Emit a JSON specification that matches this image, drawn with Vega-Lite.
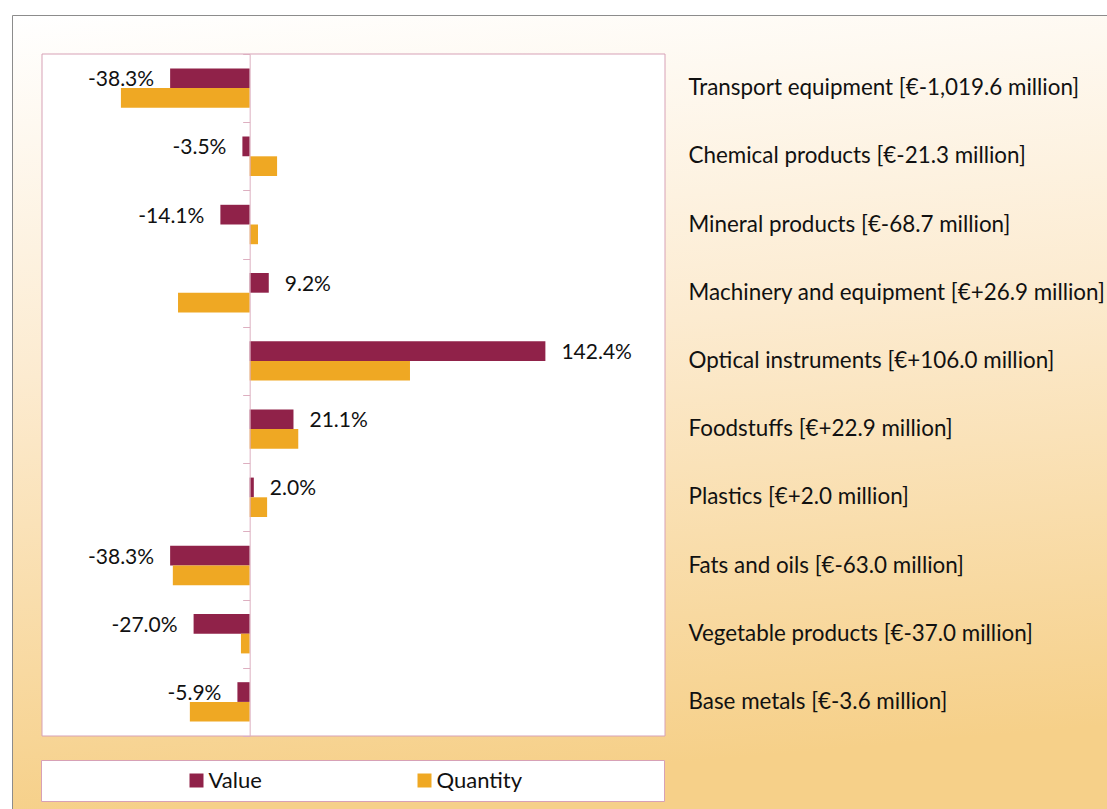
{
  "$schema": "https://vega.github.io/schema/vega-lite/v6.json",
  "width": 1095,
  "height": 794,
  "autosize": {"type": "none"},
  "padding": {"left": 12, "top": 15, "right": 0, "bottom": 0},
  "background": "white",
  "view": {
    "fill": {
      "gradient": "linear",
      "x1": 0, "y1": 0, "x2": 0.12, "y2": 1,
      "stops": [
        {"offset": 0, "color": "#FFFFFF"},
        {"offset": 0.45, "color": "#FCEBD0"},
        {"offset": 1, "color": "#F6D089"}
      ]
    },
    "stroke": "#8C8C8C",
    "strokeWidth": 1
  },
  "config": {
    "font": "Lato",
    "locale": {"number": {"decimal": ".", "thousands": ",", "grouping": [3], "currency": ["", ""], "minus": "-"}}
  },
  "layer": [
    {
      "data": {"values": [{"panel": "plot area"}]},
      "mark": {"type": "rect", "fill": "white", "stroke": "#D7A1B6", "strokeWidth": 1},
      "encoding": {
        "x": {"datum": -1, "type": "quantitative", "scale": {"domain": [-1, 2], "range": [30, 653], "nice": false}, "axis": null},
        "x2": {"datum": 2},
        "y": {"datum": 0, "type": "quantitative", "scale": {"domain": [0, 1], "range": [39, 721], "nice": false, "zero": false}, "axis": null},
        "y2": {"datum": 1}
      }
    },
    {
      "data": {
        "values": [
          {"category": "Transport equipment [€-1,019.6 million]", "series": "Value", "value": -0.383},
          {"category": "Transport equipment [€-1,019.6 million]", "series": "Quantity", "value": -0.62},
          {"category": "Chemical products [€-21.3 million]", "series": "Value", "value": -0.035},
          {"category": "Chemical products [€-21.3 million]", "series": "Quantity", "value": 0.132},
          {"category": "Mineral products [€-68.7 million]", "series": "Value", "value": -0.141},
          {"category": "Mineral products [€-68.7 million]", "series": "Quantity", "value": 0.04},
          {"category": "Machinery and equipment [€+26.9 million]", "series": "Value", "value": 0.092},
          {"category": "Machinery and equipment [€+26.9 million]", "series": "Quantity", "value": -0.345},
          {"category": "Optical instruments [€+106.0 million]", "series": "Value", "value": 1.424},
          {"category": "Optical instruments [€+106.0 million]", "series": "Quantity", "value": 0.772},
          {"category": "Foodstuffs [€+22.9 million]", "series": "Value", "value": 0.211},
          {"category": "Foodstuffs [€+22.9 million]", "series": "Quantity", "value": 0.234},
          {"category": "Plastics [€+2.0 million]", "series": "Value", "value": 0.02},
          {"category": "Plastics [€+2.0 million]", "series": "Quantity", "value": 0.084},
          {"category": "Fats and oils [€-63.0 million]", "series": "Value", "value": -0.383},
          {"category": "Fats and oils [€-63.0 million]", "series": "Quantity", "value": -0.37},
          {"category": "Vegetable products [€-37.0 million]", "series": "Value", "value": -0.27},
          {"category": "Vegetable products [€-37.0 million]", "series": "Quantity", "value": -0.042},
          {"category": "Base metals [€-3.6 million]", "series": "Value", "value": -0.059},
          {"category": "Base metals [€-3.6 million]", "series": "Quantity", "value": -0.288}
        ]
      },
      "layer": [
        {
          "mark": {"type": "bar"},
          "encoding": {
            "y": {
              "field": "category", "type": "nominal", "sort": null,
              "scale": {"range": [39, 721], "paddingInner": 0, "paddingOuter": 0},
              "axis": {
                "orient": "left", "offset": -237.67, "labels": false, "title": null,
                "domainColor": "#DDAFC0", "tickColor": "#DDAFC0", "tickSize": 7,
                "tickBand": "extent", "zindex": 1, "grid": false
              }
            },
            "yOffset": {
              "field": "series", "type": "nominal", "sort": ["Value", "Quantity"],
              "scale": {"domain": ["Value", "Quantity"], "paddingOuter": 0.73, "paddingInner": 0}
            },
            "x": {"field": "value", "type": "quantitative", "scale": {"domain": [-1, 2], "range": [30, 653], "nice": false}, "axis": null},
            "color": {
              "field": "series", "type": "nominal",
              "scale": {"domain": ["Value", "Quantity"], "range": ["#902249", "#EFA823"]},
              "legend": {
                "orient": "none", "legendX": 29, "legendY": 745, "direction": "horizontal",
                "title": " ", "titleOrient": "right", "titlePadding": 132, "titleFontSize": 19,
                "fillColor": "white", "strokeColor": "#D7A1B6", "padding": 9.5,
                "symbolType": "square", "symbolSize": 196, "symbolStrokeWidth": 0,
                "symbolOffset": 135, "labelOffset": 1, "columnPadding": 16,
                "labelFontSize": 22, "labelColor": "#111111", "labelFont": "Lato"
              }
            }
          }
        },
        {
          "transform": [{"filter": "datum.series == 'Value' && datum.value < 0"}],
          "mark": {"type": "text", "align": "right", "baseline": "middle", "dx": -16, "dy": 2, "fontSize": 21, "color": "#111111"},
          "encoding": {
            "y": {"field": "category", "type": "nominal", "sort": null, "axis": null},
            "yOffset": {"field": "series", "type": "nominal", "scale": {"domain": ["Value", "Quantity"]}},
            "x": {"field": "value", "type": "quantitative"},
            "text": {"field": "value", "type": "quantitative", "format": ".1%"}
          }
        },
        {
          "transform": [{"filter": "datum.series == 'Value' && datum.value > 0"}],
          "mark": {"type": "text", "align": "left", "baseline": "middle", "dx": 16, "dy": 2, "fontSize": 21, "color": "#111111"},
          "encoding": {
            "y": {
              "field": "category", "type": "nominal", "sort": null,
              "axis": {
                "orient": "right", "offset": -442, "domain": false, "ticks": false,
                "labelPadding": 23, "labelFontSize": 22.4, "labelColor": "#111111", "labelFont": "Lato",
                "labelAlign": "left", "labelBaseline": "middle", "labelLimit": 600,
                "title": null, "zindex": 1, "grid": false
              }
            },
            "yOffset": {"field": "series", "type": "nominal", "scale": {"domain": ["Value", "Quantity"]}},
            "x": {"field": "value", "type": "quantitative"},
            "text": {"field": "value", "type": "quantitative", "format": ".1%"}
          }
        }
      ],
      "resolve": {"axis": {"y": "independent"}}
    }
  ],
  "resolve": {"scale": {"y": "independent"}, "axis": {"y": "independent"}}
}
